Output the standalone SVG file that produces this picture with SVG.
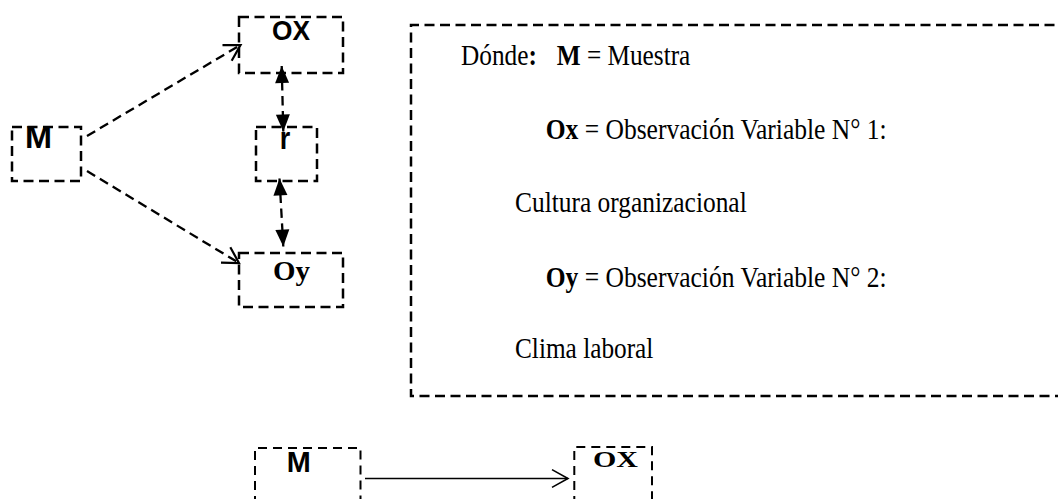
<svg xmlns="http://www.w3.org/2000/svg" width="1058" height="499" viewBox="0 0 1058 499">
<style>
.box{fill:none;stroke:#000;stroke-width:2.5;stroke-dasharray:10 5.5}
.box2{fill:none;stroke:#000;stroke-width:2;stroke-dasharray:9 6}
.dash{fill:none;stroke:#000;stroke-width:2.3;stroke-dasharray:9.5 5.5}
.solid{fill:none;stroke:#000;stroke-width:1.7}
.sans{font-family:"Liberation Sans",Arial,sans-serif;font-weight:bold;fill:#000}
.serif{font-family:"Liberation Serif","Times New Roman",serif;fill:#000}
.b{font-weight:bold}
.t{font-size:25.3px}
</style>
<defs>
<marker id="open" markerUnits="userSpaceOnUse" markerWidth="40" markerHeight="40" refX="0" refY="0" viewBox="-20 -20 40 40" orient="auto" overflow="visible">
<path d="M-15.6,-9 L0,0 L-15.6,9" fill="none" stroke="#000" stroke-width="2.2"/>
</marker>
<marker id="open2" markerUnits="userSpaceOnUse" markerWidth="40" markerHeight="40" refX="0" refY="0" viewBox="-25 -20 45 40" orient="auto" overflow="visible">
<path d="M-18,-10 L0,0 L-18,10" fill="none" stroke="#000" stroke-width="1.8"/>
</marker>
<marker id="fill" markerUnits="userSpaceOnUse" markerWidth="40" markerHeight="40" refX="0" refY="0" viewBox="-20 -20 40 40" orient="auto-start-reverse" overflow="visible">
<path d="M-17,-7 L0,0 L-17,7 Z" fill="#000" stroke="none"/>
</marker>
</defs>
<rect width="1058" height="499" fill="#fff"/>

<g id="connectors">
<line class="dash" x1="87" y1="136" x2="240.5" y2="45" marker-end="url(#open)"/>
<line class="dash" x1="87" y1="171" x2="239" y2="263" marker-end="url(#open)"/>
<line class="dash" x1="281.7" y1="66" x2="283.3" y2="131.5" marker-start="url(#fill)" marker-end="url(#fill)"/>
<line class="dash" x1="279.5" y1="178.5" x2="283.3" y2="246.5" marker-start="url(#fill)" marker-end="url(#fill)"/>
<line class="solid" x1="365" y1="478.5" x2="568" y2="478.5" marker-end="url(#open2)"/>
</g>

<g id="node-M">
<rect class="box" x="12" y="127" width="69" height="54"/>
<text class="sans" transform="translate(38.5,148) scale(1,1.1)" x="0" y="0" font-size="28" text-anchor="middle" textLength="27" lengthAdjust="spacingAndGlyphs">M</text>
</g>
<g id="node-OX">
<rect class="box" x="239" y="17" width="104" height="56"/>
<text class="sans" transform="translate(291,40) scale(1,1.1)" x="0" y="0" font-size="25" text-anchor="middle" textLength="38" lengthAdjust="spacingAndGlyphs">OX</text>
</g>
<g id="node-r">
<rect class="box" x="256" y="127" width="61" height="54"/>
<text class="sans" transform="translate(285,149) scale(1,1.15)" x="0" y="0" font-size="27" text-anchor="middle">r</text>
</g>
<g id="node-Oy">
<rect class="box" x="239" y="253" width="104" height="54"/>
<text class="serif b" transform="translate(291.5,280) scale(1,1.05)" x="0" y="0" font-size="27" text-anchor="middle" textLength="37" lengthAdjust="spacingAndGlyphs">Oy</text>
</g>

<g id="legend">
<path class="box" d="M1070,25 L411,25 L411,396 L1070,396"/>
<g transform="translate(0,65) scale(1,1.15)">
<text class="serif t" x="461" y="0">Dónde<tspan class="b">:</tspan><tspan class="b" x="556.7">M</tspan> = Muestra</text>
</g>
<g transform="translate(0,139) scale(1,1.15)">
<text class="serif t" x="545.7" y="0" textLength="341" lengthAdjust="spacingAndGlyphs"><tspan class="b">Ox</tspan> = Observación Variable N° 1:</text>
</g>
<g transform="translate(0,212) scale(1,1.15)">
<text class="serif t" x="515" y="0" textLength="231.7" lengthAdjust="spacingAndGlyphs">Cultura organizacional</text>
</g>
<g transform="translate(0,287) scale(1,1.15)">
<text class="serif t" x="545.7" y="0" textLength="341" lengthAdjust="spacingAndGlyphs"><tspan class="b">Oy</tspan> = Observación Variable N° 2:</text>
</g>
<g transform="translate(0,358) scale(1,1.15)">
<text class="serif t" x="515" y="0">Clima laboral</text>
</g>
</g>

<g id="node-M2">
<path class="box2" d="M255,505 L255,448 L360.5,448 L360.5,505"/>
<text class="sans" transform="translate(298.7,471.7) scale(1,1.1)" x="0" y="0" font-size="27" text-anchor="middle" textLength="24" lengthAdjust="spacingAndGlyphs">M</text>
</g>
<g id="node-OX2">
<path class="box2" d="M574.3,505 L574.3,447 L652,447 L652,505"/>
<text class="serif b" x="615.5" y="466.7" font-size="23" text-anchor="middle" textLength="45" lengthAdjust="spacingAndGlyphs">OX</text>
</g>
</svg>
